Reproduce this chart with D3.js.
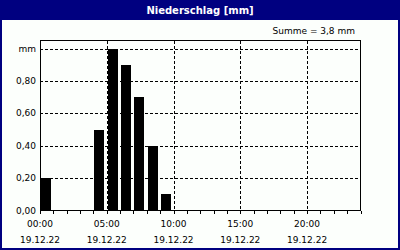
<!DOCTYPE html>
<html><head><meta charset="utf-8">
<script src="https://cdn.jsdelivr.net/npm/d3@7"></script>
<style>html,body{margin:0;padding:0;background:#fff;}svg{display:block;}</style>
</head><body>
<svg id="c" width="400" height="250"></svg>
<script>
const title = "Niederschlag [mm]";
const sumLabel = "Summe = 3,8 mm";
const hours = [0, 4, 5, 6, 7, 8, 9];
const values = [0.2, 0.5, 1.0, 0.9, 0.7, 0.4, 0.1];
const yTicks = [0, 0.2, 0.4, 0.6, 0.8, 1.0];
const yTickLabels = ["0,00", "0,20", "0,40", "0,60", "0,80", "mm"];
const xTicks = [0, 5, 10, 15, 20];
const xTickLabels = ["00:00", "05:00", "10:00", "15:00", "20:00"];
const dateLabel = "19.12.22";

const svg = d3.select("#c");
const font = "DejaVu Sans";
const L = 40, R = 360.5, T = 40.5, B = 210.5;
const x = d3.scaleLinear().domain([0, 24]).range([L, R]);
const y = d3.scaleLinear().domain([0, 1]).range([B, 48.5]);

svg.append("rect").attr("x",0).attr("y",0).attr("width",400).attr("height",250).attr("fill","#000080");
svg.append("rect").attr("x",2).attr("y",20).attr("width",396).attr("height",228).attr("fill","#fcfffc");
svg.append("text").attr("x",200).attr("y",14).attr("text-anchor","middle")
  .attr("font-family",font).attr("font-weight","bold").attr("font-size",10).attr("fill","#fff").text(title);
svg.append("text").attr("x",355).attr("y",34).attr("text-anchor","end")
  .attr("font-family",font).attr("font-size",9).attr("fill","#000").text(sumLabel);

// bars
svg.append("g").selectAll("rect").data(hours).join("rect")
  .attr("x", (d) => Math.round(x(d)) + (d === 0 ? 0 : 1))
  .attr("width", (d) => d === 0 ? 11 : 10)
  .attr("y", (d, i) => Math.round(y(values[i])))
  .attr("height", (d, i) => B - Math.round(y(values[i])))
  .attr("fill", "#000");

// grid
const g = svg.append("g").attr("stroke","#000").attr("stroke-width",1).attr("stroke-dasharray","3,2").attr("shape-rendering","crispEdges");
g.selectAll("line.h").data(yTicks.filter(v => v > 0)).join("line")
  .attr("x1", L).attr("x2", R).attr("y1", d => Math.round(y(d)) + 0.5).attr("y2", d => Math.round(y(d)) + 0.5);
g.selectAll("line.v").data(xTicks.filter(v => v > 0)).join("line")
  .attr("x1", d => Math.round(x(d)) + 0.5).attr("x2", d => Math.round(x(d)) + 0.5).attr("y1", T).attr("y2", B);

// frame
svg.append("rect").attr("x", L).attr("y", T).attr("width", R - L).attr("height", B - T)
  .attr("fill","none").attr("stroke","#000").attr("shape-rendering","crispEdges");

// x axis minor ticks
const xAxis = d3.axisBottom(x).tickValues(d3.range(0, 25)).tickSize(3).tickFormat("");
const ax = svg.append("g").attr("transform", `translate(0,${B})`).call(xAxis);
ax.select(".domain").remove();
ax.selectAll("line").attr("shape-rendering","crispEdges");

// x labels
const xl = svg.append("g").attr("font-family", font).attr("font-size", 9).attr("text-anchor","middle").attr("fill","#000");
xl.selectAll("text.t").data(xTicks).join("text").attr("x", d => x(d)).attr("y", 227).text((d, i) => xTickLabels[i]);
xl.selectAll("text.d").data(xTicks).join("text").attr("x", d => x(d)).attr("y", 243).text(dateLabel);

// y labels
svg.append("g").attr("font-family", font).attr("font-size", 9).attr("text-anchor","end").attr("fill","#000")
  .selectAll("text").data(yTicks).join("text").attr("x", 36).attr("y", d => y(d) + 3).text((d, i) => yTickLabels[i]);
</script>
</body></html>
